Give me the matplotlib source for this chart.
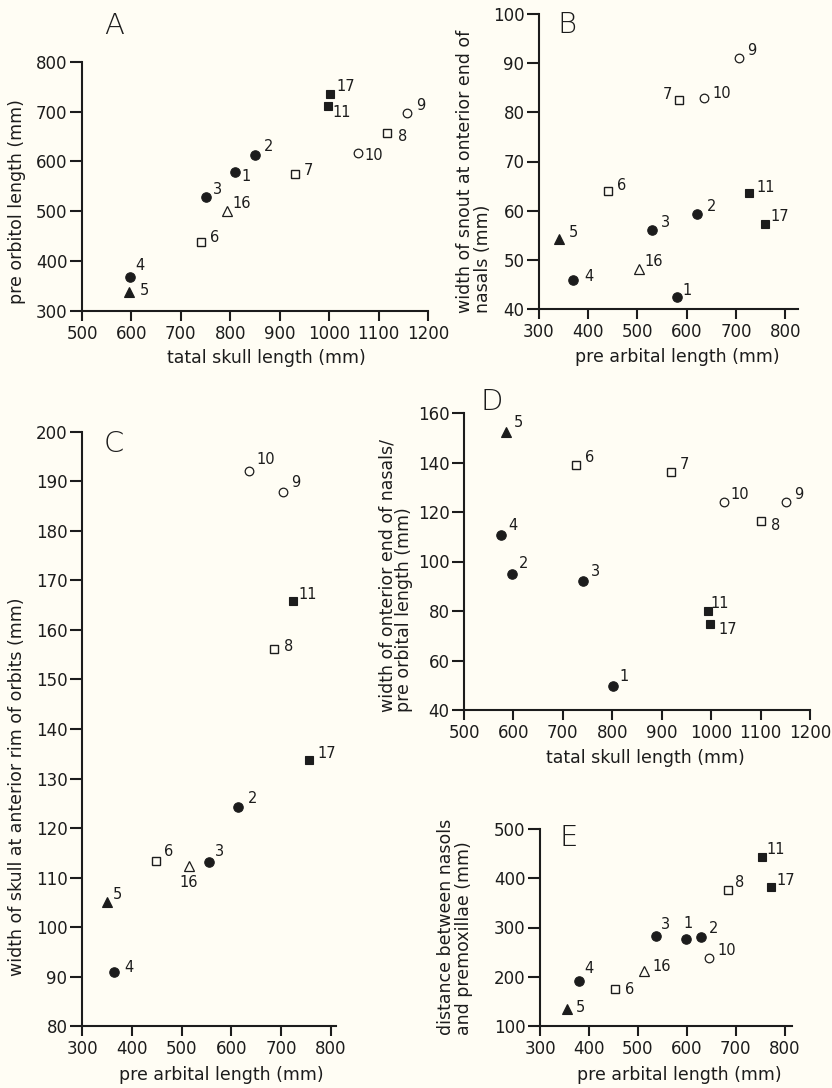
import numpy as np
import matplotlib
matplotlib.use('Agg')
import matplotlib.pyplot as plt

nan = np.nan

# specimen numbers and their symbol group
specimens = ['1', '2', '3', '4', '5', '6', '7', '8', '9', '10', '11', '16', '17']
kinds = ['filled circle', 'filled circle', 'filled circle', 'filled circle',
         'filled triangle', 'open square', 'open square', 'open square',
         'open circle', 'open circle', 'filled square', 'open triangle', 'filled square']

# A: total skull length vs pre orbital length
a_total_skull = [809, 850, 750, 598, 595, 740, 930, 1117, 1157, 1059, 997, 793, 1002]
a_pre_orbital = [578, 614, 528, 367, 338, 439, 574, 657, 697, 617, 711, 500, 735]

# B: pre orbital length vs width of snout at anterior end of nasals
b_pre_orbital = [581, 620, 530, 370, 341, 440, 585, nan, 707, 635, 727, 503, 759]
b_snout_width = [42.5, 59.3, 56.0, 45.8, 54.2, 64.1, 82.5, nan, 91.0, 83.0, 63.5, 48.1, 57.2]

# C: pre orbital length vs width of skull at anterior rim of orbits
c_pre_orbital = [nan, 614, 556, 365, 350, 448, nan, 685, 704, 635, 723, 514, 755]
c_skull_width = [nan, 124.3, 113.1, 91.0, 105.0, 113.4, nan, 156.1, 187.9, 192.1, 165.8, 112.3, 133.7]

# D: total skull length vs nasal width / pre orbital length
d_total_skull = [802, 597, 741, 575, 584, 726, 919, 1101, 1151, 1025, 994, nan, 998]
d_ratio = [49.7, 95.0, 92.3, 110.6, 152.4, 138.8, 136.0, 116.3, 124.0, 124.0, 80.0, nan, 74.8]

# E: pre orbital length vs distance between nasals and premaxillae
e_pre_orbital = [599, 629, 538, 379, 356, 453, nan, 684, nan, 646, 754, 512, 772]
e_distance = [276, 280, 283, 192, 134, 176, nan, 376, nan, 238, 444, 212, 382]

ink = '#1c1c1c'
bg = '#fffdf4'
W, H = 832, 1088

plt.rcParams['font.family'] = ['DejaVu Sans']
plt.rcParams['text.color'] = ink

fig = plt.figure(figsize=(W / 100, H / 100), dpi=100, facecolor=bg)


def fx(x):
    return x / W


def fy(y):
    return 1 - y / H


def make_axes(left, top, right, bottom):
    ax = fig.add_axes([fx(left), fy(bottom), (right - left) / W, (bottom - top) / H])
    ax.set_facecolor('none')
    for s in ['top', 'right']:
        ax.spines[s].set_visible(False)
    for s in ['left', 'bottom']:
        ax.spines[s].set_linewidth(1.5)
        ax.spines[s].set_color(ink)
    ax.tick_params(axis='y', direction='out', length=9, width=1.5, color=ink,
                   labelsize=12, pad=1.5, labelcolor=ink)
    ax.tick_params(axis='x', direction='out', length=7, width=1.5, color=ink,
                   labelsize=12, pad=3, labelcolor=ink)
    return ax


marker_style = {
    'filled circle': dict(marker='o', ms=6.8, mfc=ink, mec=ink, mew=0.8),
    'filled triangle': dict(marker='^', ms=6.8, mfc=ink, mec=ink, mew=0.8),
    'open square': dict(marker='s', ms=5.6, mfc='none', mec=ink, mew=1.0),
    'open circle': dict(marker='o', ms=6.2, mfc='none', mec=ink, mew=0.9),
    'filled square': dict(marker='s', ms=6.0, mfc=ink, mec=ink, mew=0.8),
    'open triangle': dict(marker='^', ms=6.8, mfc='none', mec=ink, mew=0.9),
}


def scatter_panel(ax, xs, ys, offsets):
    for name, kind, x, y in zip(specimens, kinds, xs, ys):
        if np.isnan(x) or np.isnan(y):
            continue
        ax.plot([x], [y], ls='none', clip_on=False, **marker_style[kind])
        dx, dy = offsets[name]
        ax.annotate(name, (x, y), xytext=(dx, dy), textcoords='offset pixels',
                    ha='center', va='center', fontsize=10.5, color=ink)


def label_axes(ax, xlabel, xpos, ylabel, ypos, linespacing=1.0):
    ax.set_xlabel(xlabel, fontsize=12.5, color=ink)
    ax.xaxis.label.set_verticalalignment('center')
    ax.xaxis.set_label_coords(fx(xpos[0]), fy(xpos[1]), transform=fig.transFigure)
    ax.set_ylabel(ylabel, fontsize=12.5, color=ink, multialignment='left',
                  linespacing=linespacing)
    ax.yaxis.label.set_verticalalignment('center')
    ax.yaxis.label.set_horizontalalignment('center')
    ax.yaxis.set_label_coords(fx(ypos[0]), fy(ypos[1]), transform=fig.transFigure)


def panel_letter(letter, x, y):
    fig.text(fx(x), fy(y), letter, fontsize=21, fontweight='light',
             ha='center', va='center', color=ink)


# label offsets (pixels, right / up) for each panel
off_a = {'1': (11, -4), '2': (14, 8), '3': (12, 8), '4': (9, 12), '5': (15, 1),
         '6': (14, 4), '7': (14, 4), '8': (16, -3), '9': (14, 8), '10': (15, -2),
         '11': (14, -6), '16': (15, 8), '17': (16, 8)}
off_b = {'1': (10, 6), '2': (15, 8), '3': (13, 8), '4': (15, 4), '5': (14, 7),
         '6': (14, 5), '7': (-12, 6), '9': (12, 8), '10': (18, 4), '11': (16, 6),
         '16': (15, 8), '17': (15, 8)}
off_c = {'2': (14, 8), '3': (10, 11), '4': (15, 4), '5': (11, 8), '6': (13, 9),
         '8': (15, 3), '9': (13, 9), '10': (17, 11), '11': (15, 7), '16': (0, -16),
         '17': (18, 7)}
off_d = {'1': (11, 9), '2': (12, 10), '3': (12, 9), '4': (12, 10), '5': (13, 9),
         '6': (14, 8), '7': (13, 8), '8': (15, -4), '9': (13, 8), '10': (16, 8),
         '11': (12, 7), '17': (18, -6)}
off_e = {'1': (2, 16), '2': (13, 9), '3': (9, 11), '4': (10, 12), '5': (13, 2),
         '6': (15, -1), '8': (12, 8), '10': (17, 8), '11': (14, 7), '16': (18, 4),
         '17': (15, 7)}

# --- A
axA = make_axes(82, 62, 428, 310.7)
scatter_panel(axA, a_total_skull, a_pre_orbital, off_a)
axA.set_xlim(500, 1200)
axA.set_ylim(300, 800)
axA.set_xticks(np.arange(500, 1201, 100))
axA.set_yticks(np.arange(300, 801, 100))
label_axes(axA, 'tatal skull length (mm)', (266, 358),
           'pre orbitol length (mm)', (17.5, 202))
panel_letter('A', 114, 26)

# --- B
axB = make_axes(539, 14, 798, 309)
scatter_panel(axB, b_pre_orbital, b_snout_width, off_b)
axB.set_xlim(300, 826)
axB.set_ylim(40, 100)
axB.set_xticks(np.arange(300, 801, 100))
axB.set_yticks(np.arange(40, 101, 10))
label_axes(axB, 'pre arbital length (mm)', (677, 357),
           'width of snout at onterior end of\nnasals (mm)', (474, 171), 0.95)
panel_letter('B', 567, 25)

# --- C
axC = make_axes(82, 431.7, 336, 1026.3)
scatter_panel(axC, c_pre_orbital, c_skull_width, off_c)
axC.set_xlim(300, 810)
axC.set_ylim(80, 200)
axC.set_xticks(np.arange(300, 801, 100))
axC.set_yticks(np.arange(80, 201, 10))
label_axes(axC, 'pre arbital length (mm)', (221, 1075),
           'width of skull at anterior rim of orbits (mm)', (17, 787))
panel_letter('C', 114, 444)

# --- D
axD = make_axes(464, 413, 810, 710)
scatter_panel(axD, d_total_skull, d_ratio, off_d)
axD.set_xlim(500, 1200)
axD.set_ylim(40, 160)
axD.set_xticks(np.arange(500, 1201, 100))
axD.set_yticks(np.arange(40, 161, 20))
label_axes(axD, 'tatal skull length (mm)', (645, 758),
           'width of onterior end of nasals/\npre orbital length (mm)', (396, 575), 0.9)
panel_letter('D', 492, 402)

# --- E
axE = make_axes(540, 829, 792, 1026)
scatter_panel(axE, e_pre_orbital, e_distance, off_e)
axE.set_xlim(300, 815)
axE.set_ylim(100, 500)
axE.set_xticks(np.arange(300, 801, 100))
axE.set_yticks(np.arange(100, 501, 100))
label_axes(axE, 'pre arbital length (mm)', (679, 1075),
           'distance between nasols\nand premoxillae (mm)', (455, 927), 1.05)
panel_letter('E', 569, 838)

fig.savefig('out.png', dpi=100, facecolor=bg)
